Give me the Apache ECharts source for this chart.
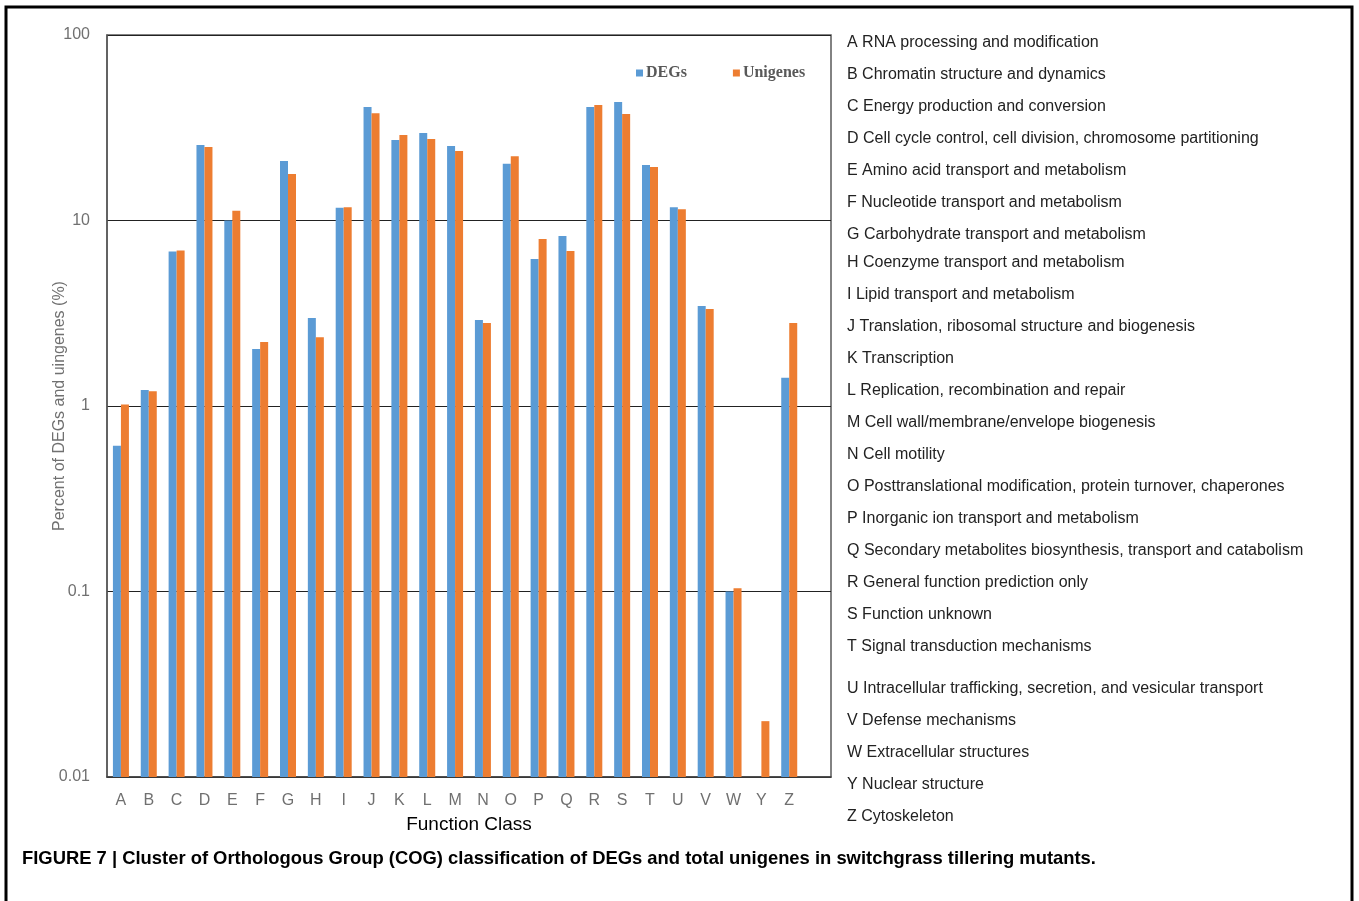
<!DOCTYPE html>
<html>
<head>
<meta charset="utf-8">
<script src="https://cdn.jsdelivr.net/npm/echarts@6/dist/echarts.min.js"></script>
<style>
html, body { margin: 0; padding: 0; background: #fff; }
#main { width: 1359px; height: 901px; }
</style>
</head>
<body>
<div id="main"></div>
<script>
var classes = ['A','B','C','D','E','F','G','H','I','J','K','L','M','N','O','P','Q','R','S','T','U','V','W','Y','Z'];
var degs = [0.61, 1.22, 6.8, 25.5, 10.0, 2.03, 20.9, 2.98, 11.7, 40.9, 27.2, 29.6, 25.2, 2.91, 20.2, 6.2, 8.25, 40.9, 43.5, 19.9, 11.8, 3.46, 0.1, '-', 1.42];
var unigenes = [1.02, 1.2, 6.9, 24.9, 11.3, 2.21, 17.8, 2.35, 11.8, 37.9, 28.9, 27.5, 23.7, 2.8, 22.2, 7.95, 6.85, 42.0, 37.5, 19.4, 11.5, 3.33, 0.104, 0.02, 2.8];
var descriptions = [
    'RNA processing and modification',
    'Chromatin structure and dynamics',
    'Energy production and conversion',
    'Cell cycle control, cell division, chromosome partitioning',
    'Amino acid transport and metabolism',
    'Nucleotide transport and metabolism',
    'Carbohydrate transport and metabolism',
    'Coenzyme transport and metabolism',
    'Lipid transport and metabolism',
    'Translation, ribosomal structure and biogenesis',
    'Transcription',
    'Replication, recombination and repair',
    'Cell wall/membrane/envelope biogenesis',
    'Cell motility',
    'Posttranslational modification, protein turnover, chaperones',
    'Inorganic ion transport and metabolism',
    'Secondary metabolites biosynthesis, transport and catabolism',
    'General function prediction only',
    'Function unknown',
    'Signal transduction mechanisms',
    'Intracellular trafficking, secretion, and vesicular transport',
    'Defense mechanisms',
    'Extracellular structures',
    'Nuclear structure',
    'Cytoskeleton'
];

(function(){
    var myChart = echarts.init(document.getElementById('main'));

    // class list on the right side
    var listItems = [];
    var y = 41;
    for (var i = 0; i < classes.length; i++) {
        listItems.push({
            type: 'text',
            left: 847,
            top: y - 6,
            style: {
                text: classes[i] + ' ' + descriptions[i],
                font: '16px "Liberation Sans", Arial, sans-serif',
                fill: '#222'
            }
        });
        y += 32;
        if (i === 6) y -= 4;
        if (i === 19) y += 10;
    }

    // the original plot keeps one empty slot after Z
    var axisCats = classes.concat(['']);

    var option = {
        animation: false,
        color: ['#5B9BD5', '#ED7D31'],
        legend: {
            left: 631,
            top: 60,
            itemWidth: 7,
            itemHeight: 7,
            itemGap: 46,
            icon: 'rect',
            textStyle: {
                fontFamily: '"Liberation Serif", "DejaVu Serif", serif',
                fontWeight: 'bold',
                fontSize: 16,
                color: '#595959',
                padding: [0, 0, 0, -2]
            },
            data: ['DEGs', 'Unigenes']
        },
        grid: {
            left: 107,
            top: 35,
            right: 528,
            bottom: 124,
            show: true,
            borderColor: '#595959',
            borderWidth: 1.5
        },
        xAxis: {
            type: 'category',
            data: axisCats,
            name: 'Function Class',
            nameLocation: 'middle',
            nameGap: 38,
            nameTextStyle: {
                fontFamily: '"Liberation Sans", Arial, sans-serif',
                fontSize: 19,
                color: '#000'
            },
            axisLine: { lineStyle: { color: '#404040', width: 1.5 } },
            axisTick: { show: false },
            axisLabel: {
                margin: 16,
                interval: 0,
                fontFamily: '"Liberation Sans", Arial, sans-serif',
                fontSize: 16,
                color: '#707070'
            }
        },
        yAxis: {
            type: 'log',
            logBase: 10,
            min: 0.01,
            max: 100,
            startValue: 0.01,
            name: 'Percent of DEGs and uingenes (%)',
            nameLocation: 'middle',
            nameGap: 39,
            nameMoveOverlap: false,
            nameTextStyle: {
                fontFamily: '"Liberation Sans", Arial, sans-serif',
                fontSize: 16,
                color: '#707070'
            },
            axisLine: { show: true, lineStyle: { color: '#595959', width: 1.5 } },
            axisTick: { show: false },
            axisLabel: {
                margin: 17,
                fontFamily: '"Liberation Sans", Arial, sans-serif',
                fontSize: 16,
                color: '#707070',
                formatter: function (v) { return String(+v.toPrecision(3)); }
            },
            splitLine: { lineStyle: { color: '#222', width: 1.2 } }
        },
        series: [
            {
                name: 'DEGs',
                type: 'bar',
                barWidth: 8,
                barGap: '0%',
                data: degs
            },
            {
                name: 'Unigenes',
                type: 'bar',
                barWidth: 8,
                barGap: '0%',
                data: unigenes
            }
        ],
        graphic: [
            {
                type: 'rect',
                shape: { x: 6, y: 7, width: 1346, height: 920 },
                style: { fill: 'none', stroke: '#000', lineWidth: 3 },
                silent: true
            },
            {
                type: 'text',
                left: 22,
                top: 850,
                style: {
                    text: 'FIGURE 7 | Cluster of Orthologous Group (COG) classification of DEGs and total unigenes in switchgrass tillering mutants.',
                    font: 'bold 18.4px "Liberation Sans", Arial, sans-serif',
                    fill: '#000'
                }
            }
        ].concat(listItems)
    };

    myChart.setOption(option);
})();
</script>
</body>
</html>
